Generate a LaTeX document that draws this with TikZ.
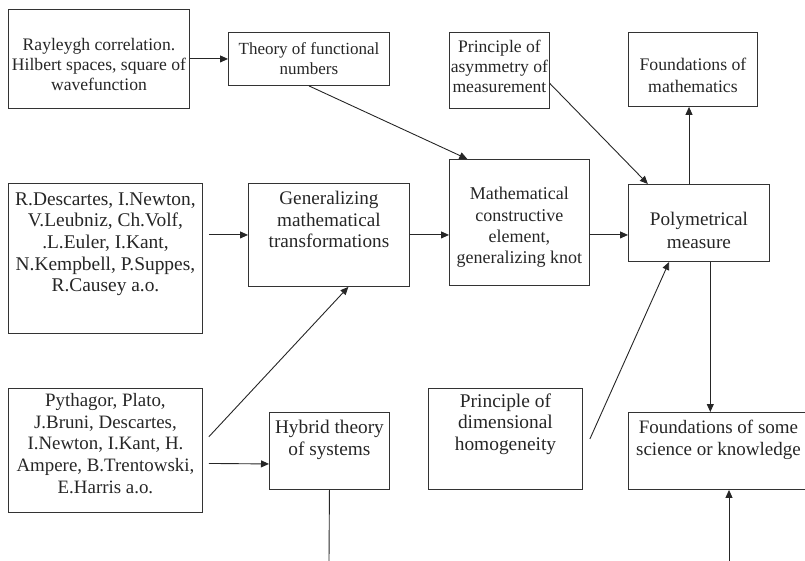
\documentclass[tikz,border=0pt]{standalone}
\usepackage{fontspec}
\setmainfont{Liberation Serif}
\usetikzlibrary{arrows.meta,calc}
% size, baselineskip, width, height, top gap, text
\newcommand\boxtxt[6]{\begin{minipage}[c][#4pt][t]{#3pt}\fontsize{#1pt}{#2pt}\selectfont\vspace*{#5pt}\centering #6\end{minipage}}
\begin{document}
\begin{tikzpicture}[x=1pt,y=-1pt,
  bx/.style={draw=black!80, line width=0.9pt, inner sep=0pt, anchor=north west, text=black!85},
  arr/.style={draw=black!85, line width=0.9pt, -{Triangle[length=8pt,width=7pt]}},
  ln/.style={draw=black!85, line width=0.9pt}]
\useasboundingbox (0,0) rectangle (805,561);
\clip (0,0) rectangle (805,561);
% boxes
\node[bx] (A) at (8,9) {\boxtxt{17.6}{20}{181}{99}{29}{Rayleygh correlation.\\ Hilbert spaces, square of\\ wavefunction}};
\node[bx] (B) at (228,32) {\boxtxt{17}{20}{161}{53}{10}{Theory of functional\\ numbers}};
\node[bx] (C) at (449,32) {\boxtxt{17.6}{20}{100}{76}{8}{Principle of\\ asymmetry of\\ measurement}};
\node[bx] (D) at (628,32) {\boxtxt{17.7}{22}{129}{74}{26}{Foundations of\\ mathematics}};
\node[bx] (E) at (449,159) {\boxtxt{18}{21.3}{140}{126}{28}{Mathematical\\ constructive\\ element,\\ generalizing knot}};
\node[bx] (F) at (628,184) {\boxtxt{19.2}{22.5}{141}{77}{28}{Polymetrical\\ measure}};
\node[bx] (G) at (8,183) {\boxtxt{19.4}{21.7}{194}{150}{9}{R.Descartes, I.Newton,\\ V.Leubniz, Ch.Volf,\\ .L.Euler, I.Kant,\\ N.Kempbell, P.Suppes,\\ R.Causey a.o.}};
\node[bx] (H) at (248,183) {\boxtxt{19.2}{21.3}{161}{103}{8}{Generalizing\\ mathematical\\ transformations}};
\node[bx] (I) at (8,388) {\boxtxt{18.9}{21.7}{194}{124}{5}{Pythagor, Plato,\\ J.Bruni, Descartes,\\ I.Newton, I.Kant, H.\\ Ampere, B.Trentowski,\\ E.Harris a.o.}};
\node[bx] (J) at (269,412) {\boxtxt{19.3}{21.3}{120}{77}{8}{Hybrid theory\\ of systems}};
\node[bx] (K) at (428,388) {\boxtxt{19.4}{21.7}{154}{101}{5}{Principle of\\ dimensional\\ homogeneity}};
\node[bx] (L) at (628,412) {\boxtxt{19}{21.3}{180}{77}{8}{Foundations of some\\ science or knowledge}};
% connectors
\draw[arr] (A.east) -- (B.west);
\draw[arr] (B.south) -- ($(E.north west)!0.13!(E.north east)$);
\draw[arr] ($(C.north east)!0.67!(C.south east)$) -- ($(F.north west)!0.14!(F.north east)$);
\coordinate (fu) at ($(F.north west)!0.43!(F.north east)$);
\draw[arr] (fu) -- (fu |- D.south);
\draw[arr] ([xshift=6pt]G.east |- H.west) -- (H.west);
\draw[arr] (H.east) -- (H.east -| E.west);
\draw[arr] (E.east |- H.east) -- (F.west |- H.east);
\draw[arr] ($(I.north east)!0.39!(I.south east)+(6,0)$) -- ($(H.south west)!0.62!(H.south east)$);
\draw[arr] ($(I.east)+(6,13)$) -- ($(J.west)+(0,13)$);
\coordinate (jend) at (329,561);
\draw[ln] (J.south) -- (jend);
\draw[arr] ([xshift=7pt]K.east) -- ($(F.south west)!0.29!(F.south east)$);
\coordinate (fd) at ($(F.south west)!0.58!(F.south east)$);
\draw[arr] (fd) -- (fd |- L.north);
\coordinate (lend) at (729,561);
\draw[arr] (lend) -- (lend |- L.south);
\end{tikzpicture}
\end{document}
